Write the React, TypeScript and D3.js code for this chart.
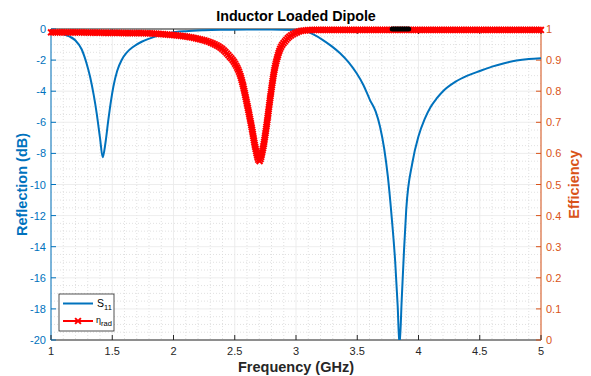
import React, { useEffect, useRef } from 'react';
import * as d3 from 'd3';

// ---- Data ----
const s11Freq = [1.0, 1.05, 1.1, 1.15, 1.2, 1.25, 1.29, 1.32, 1.35, 1.373, 1.4, 1.422, 1.445, 1.468, 1.49, 1.509, 1.54, 1.577, 1.62, 1.672, 1.74, 1.808, 1.89, 1.97, 2.1, 2.25, 2.4, 2.6, 2.8, 2.98, 3.087, 3.15, 3.22, 3.29, 3.36, 3.43, 3.495, 3.55, 3.604, 3.65, 3.686, 3.72, 3.75, 3.78, 3.81, 3.83, 3.845, 3.863, 3.882, 3.9, 3.95, 4.0, 4.05, 4.1, 4.15, 4.2, 4.3, 4.4, 4.5, 4.6, 4.7, 4.8, 4.9, 5.0];
const s11Values = [-0.12, -0.2, -0.32, -0.48, -0.74, -1.3, -2.2, -3.1, -4.3, -5.42, -7.0, -8.25, -7.3, -5.85, -4.6, -3.71, -2.7, -1.99, -1.5, -1.14, -0.82, -0.6, -0.39, -0.25, -0.14, -0.08, -0.05, -0.03, -0.03, -0.07, -0.17, -0.38, -0.71, -1.1, -1.56, -2.15, -2.85, -3.6, -4.57, -5.3, -6.28, -7.7, -9.5, -12.0, -15.0, -17.8, -20.4, -17.4, -14.2, -11.6, -8.6, -6.9, -5.8, -5.0, -4.45, -4.0, -3.4, -3.0, -2.7, -2.42, -2.2, -2.03, -1.93, -1.88];

const effFreq = [1.0, 1.2, 1.4, 1.6, 1.81, 1.95, 2.08, 2.216, 2.3, 2.4, 2.45, 2.5, 2.55, 2.6, 2.64, 2.67, 2.7, 2.73, 2.76, 2.79, 2.82, 2.86, 2.92, 3.0, 3.06, 3.15, 4.0, 5.0];
const effValues = [0.989, 0.989, 0.988, 0.987, 0.986, 0.982, 0.977, 0.967, 0.957, 0.935, 0.915, 0.89, 0.845, 0.76, 0.68, 0.615, 0.575, 0.615, 0.69, 0.78, 0.86, 0.925, 0.965, 0.988, 0.995, 0.997, 0.997, 0.997];

const xTicks = [1, 1.5, 2, 2.5, 3, 3.5, 4, 4.5, 5];
const xTickLabels = ['1', '1.5', '2', '2.5', '3', '3.5', '4', '4.5', '5'];
const leftTicks = [0, -2, -4, -6, -8, -10, -12, -14, -16, -18, -20];
const rightTicks = [0, 0.1, 0.2, 0.3, 0.4, 0.5, 0.6, 0.7, 0.8, 0.9, 1];
const rightTickLabels = ['0', '0.1', '0.2', '0.3', '0.4', '0.5', '0.6', '0.7', '0.8', '0.9', '1'];
const blackMarkRange = [3.785, 3.92];

const titleText = 'Inductor Loaded Dipole';
const xLabel = 'Frequency (GHz)';
const yLeftLabel = 'Reflection (dB)';
const yRightLabel = 'Efficiency';

const W = 591;
const H = 376;
const M = { left: 51, right: 541, top: 29, bottom: 340 };
const BLUE = '#0072BD';
const ORANGE = '#D95319';
const RED = '#FF0000';
const DARK = '#262626';
const FONT = '"Liberation Sans", Arial, Helvetica, sans-serif';

export default function App() {
  const ref = useRef<SVGSVGElement>(null);

  useEffect(() => {
    const svg = d3.select(ref.current);
    svg.selectAll('*').remove();

    const x = d3.scaleLinear().domain([1, 5]).range([M.left, M.right]);
    const yL = d3.scaleLinear().domain([-20, 0]).range([M.bottom, M.top]);
    const yR = d3.scaleLinear().domain([0, 1]).range([M.bottom, M.top]);

    svg.append('rect').attr('width', W).attr('height', H).attr('fill', '#fff');

    const defs = svg.append('defs');
    defs.append('clipPath').attr('id', 'plotclip')
      .append('rect').attr('x', M.left).attr('y', M.top)
      .attr('width', M.right - M.left).attr('height', M.bottom - M.top);

    // grid
    const g = svg.append('g');
    const minorX = d3.range(10, 51).map(i => i / 10).filter(v => !xTicks.some(t => Math.abs(t - v) < 1e-6));
    const minorY = d3.range(-40, 1).map(i => i / 2).filter(v => !leftTicks.some(t => Math.abs(t - v) < 1e-6));
    g.selectAll('.mx').data(minorX).enter().append('line')
      .attr('x1', d => x(d)).attr('x2', d => x(d)).attr('y1', M.top).attr('y2', M.bottom)
      .attr('stroke', '#d9d9d9').attr('stroke-width', 0.8).attr('stroke-dasharray', '1,2');
    g.selectAll('.my').data(minorY).enter().append('line')
      .attr('y1', d => yL(d)).attr('y2', d => yL(d)).attr('x1', M.left).attr('x2', M.right)
      .attr('stroke', '#d9d9d9').attr('stroke-width', 0.8).attr('stroke-dasharray', '1,2');
    g.selectAll('.gx').data(xTicks).enter().append('line')
      .attr('x1', d => x(d)).attr('x2', d => x(d)).attr('y1', M.top).attr('y2', M.bottom)
      .attr('stroke', '#e8e8e8').attr('stroke-width', 0.8);
    g.selectAll('.gy').data(leftTicks).enter().append('line')
      .attr('y1', d => yL(d)).attr('y2', d => yL(d)).attr('x1', M.left).attr('x2', M.right)
      .attr('stroke', '#e8e8e8').attr('stroke-width', 0.8);

    // axes box
    const ax = svg.append('g');
    ax.append('line').attr('x1', M.left).attr('x2', M.right).attr('y1', M.bottom).attr('y2', M.bottom).attr('stroke', DARK);
    ax.append('line').attr('x1', M.left).attr('x2', M.right).attr('y1', M.top).attr('y2', M.top).attr('stroke', DARK);
    ax.append('line').attr('x1', M.left).attr('x2', M.left).attr('y1', M.top).attr('y2', M.bottom).attr('stroke', BLUE);
    ax.append('line').attr('x1', M.right).attr('x2', M.right).attr('y1', M.top).attr('y2', M.bottom).attr('stroke', ORANGE);

    const TL = 5;
    ax.selectAll('.tb').data(xTicks).enter().append('line')
      .attr('x1', d => x(d)).attr('x2', d => x(d)).attr('y1', M.bottom).attr('y2', M.bottom - TL).attr('stroke', DARK);
    ax.selectAll('.tt').data(xTicks).enter().append('line')
      .attr('x1', d => x(d)).attr('x2', d => x(d)).attr('y1', M.top).attr('y2', M.top + TL).attr('stroke', DARK);
    ax.selectAll('.tl').data(leftTicks).enter().append('line')
      .attr('y1', d => yL(d)).attr('y2', d => yL(d)).attr('x1', M.left).attr('x2', M.left + TL).attr('stroke', BLUE);
    ax.selectAll('.tr').data(rightTicks).enter().append('line')
      .attr('y1', d => yR(d)).attr('y2', d => yR(d)).attr('x1', M.right).attr('x2', M.right - TL).attr('stroke', ORANGE);

    // tick labels
    const TFS = 11;
    ax.selectAll('.lx').data(xTicks).enter().append('text')
      .attr('x', d => x(d)).attr('y', 355).attr('text-anchor', 'middle')
      .attr('font-family', FONT).attr('font-size', TFS).attr('fill', DARK)
      .text((d, i) => xTickLabels[i]);
    ax.selectAll('.ll').data(leftTicks).enter().append('text')
      .attr('x', 46).attr('y', d => yL(d) + 4).attr('text-anchor', 'end')
      .attr('font-family', FONT).attr('font-size', TFS).attr('fill', BLUE)
      .text(d => String(d));
    ax.selectAll('.lr').data(rightTicks).enter().append('text')
      .attr('x', 546).attr('y', d => yR(d) + 4).attr('text-anchor', 'start')
      .attr('font-family', FONT).attr('font-size', TFS).attr('fill', ORANGE)
      .text((d, i) => rightTickLabels[i]);

    // axis titles
    const LFS = 14.5;
    svg.append('text').attr('x', (M.left + M.right) / 2).attr('y', 21).attr('text-anchor', 'middle')
      .attr('font-family', FONT).attr('font-weight', 'bold').attr('font-size', 14.3).attr('fill', '#000')
      .text(titleText);
    svg.append('text').attr('x', (M.left + M.right) / 2).attr('y', 372).attr('text-anchor', 'middle')
      .attr('font-family', FONT).attr('font-weight', 'bold').attr('font-size', LFS).attr('fill', DARK)
      .text(xLabel);
    svg.append('text').attr('transform', `translate(27,${(M.top + M.bottom) / 2}) rotate(-90)`)
      .attr('text-anchor', 'middle')
      .attr('font-family', FONT).attr('font-weight', 'bold').attr('font-size', LFS).attr('fill', BLUE)
      .text(yLeftLabel);
    svg.append('text').attr('transform', `translate(579,${(M.top + M.bottom) / 2}) rotate(-90)`)
      .attr('text-anchor', 'middle')
      .attr('font-family', FONT).attr('font-weight', 'bold').attr('font-size', LFS).attr('fill', ORANGE)
      .text(yRightLabel);

    // S11 curve
    const s11Data = s11Freq.map((f, i) => [f, s11Values[i]] as [number, number]);
    const lineL = d3.line<[number, number]>().x(d => x(d[0])).y(d => yL(d[1])).curve(d3.curveMonotoneX);
    svg.append('path').attr('d', lineL(s11Data) as string)
      .attr('fill', 'none').attr('stroke', BLUE).attr('stroke-width', 2)
      .attr('clip-path', 'url(#plotclip)');

    // Efficiency curve with markers
    const effData = effFreq.map((f, i) => [f, effValues[i]] as [number, number]);
    const lineR = d3.line<[number, number]>().x(d => x(d[0])).y(d => yR(d[1])).curve(d3.curveMonotoneX);
    const effPath = svg.append('path').attr('d', lineR(effData) as string)
      .attr('fill', 'none').attr('stroke', RED).attr('stroke-width', 2);
    const node = effPath.node() as SVGPathElement;
    const total = node.getTotalLength();
    const mk = svg.append('g');
    const ms = 2.9;
    const markD = `M${-ms},${-ms}L${ms},${ms}M${-ms},${ms}L${ms},${-ms}`;
    for (let l = 0; l <= total; l += 2.2) {
      const p = node.getPointAtLength(l);
      mk.append('path').attr('d', markD).attr('transform', `translate(${p.x},${p.y})`)
        .attr('stroke', RED).attr('stroke-width', 2).attr('fill', 'none');
    }

    // black mark at top
    svg.append('line')
      .attr('x1', x(blackMarkRange[0])).attr('x2', x(blackMarkRange[1]))
      .attr('y1', M.top).attr('y2', M.top)
      .attr('stroke', '#000').attr('stroke-width', 5).attr('stroke-linecap', 'round');

    // legend
    const lg = svg.append('g');
    lg.append('rect').attr('x', 59).attr('y', 294).attr('width', 55).attr('height', 37)
      .attr('fill', '#fff').attr('stroke', DARK).attr('stroke-width', 0.8);
    lg.append('line').attr('x1', 63).attr('x2', 93).attr('y1', 303.5).attr('y2', 303.5)
      .attr('stroke', BLUE).attr('stroke-width', 2);
    const t1 = lg.append('text').attr('x', 97).attr('y', 307).attr('font-family', FONT)
      .attr('font-size', 10.5).attr('fill', '#000');
    t1.append('tspan').text('S');
    t1.append('tspan').attr('font-size', 7.5).attr('dy', 3).text('11');
    lg.append('line').attr('x1', 63).attr('x2', 93).attr('y1', 321).attr('y2', 321)
      .attr('stroke', RED).attr('stroke-width', 2);
    lg.append('path').attr('d', markD).attr('transform', 'translate(78,321)')
      .attr('stroke', RED).attr('stroke-width', 2).attr('fill', 'none');
    const t2 = lg.append('text').attr('x', 96).attr('y', 323).attr('font-family', FONT)
      .attr('font-size', 9).attr('fill', '#000');
    t2.append('tspan').text('η');
    t2.append('tspan').attr('font-size', 7.5).attr('dy', 3).text('rad');
  }, []);

  return (
    <svg ref={ref} width={W} height={H}
      style={{ position: 'absolute', left: 0, top: 0, display: 'block' }} />
  );
}
